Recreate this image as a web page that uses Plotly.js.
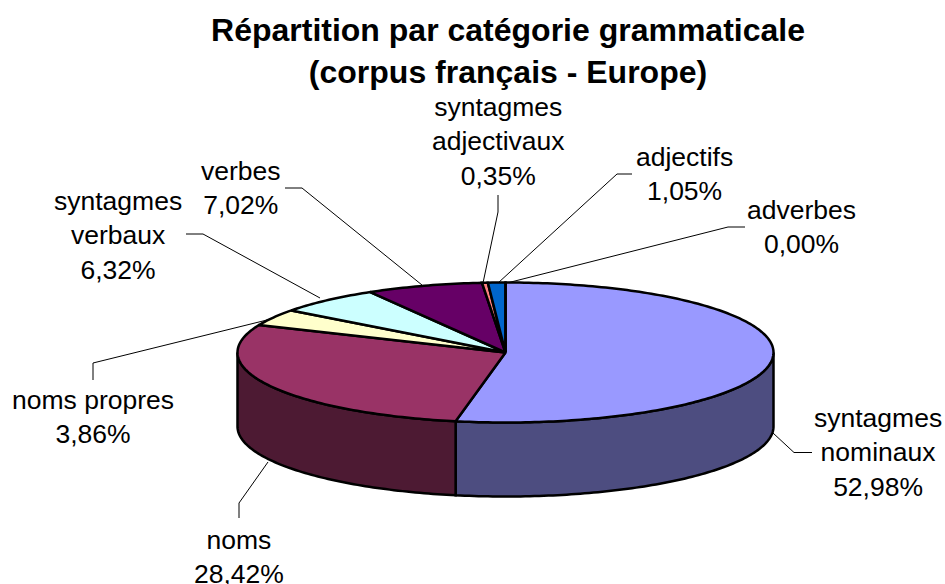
<!DOCTYPE html>
<html>
<head>
<meta charset="utf-8">
<script src="https://cdn.plot.ly/plotly-3.0.1.min.js"></script>
<style>html,body{margin:0;padding:0;background:#fff}#chart{width:945px;height:584px}</style>
</head>
<body>
<div id="chart"></div>
<script>
// Data
const categories = ["syntagmes nominaux","noms","noms propres","syntagmes verbaux","verbes","syntagmes adjectivaux","adjectifs","adverbes"];
const labelLines = ["syntagmes<br>nominaux","noms","noms propres","syntagmes<br>verbaux","verbes","syntagmes<br>adjectivaux","adjectifs","adverbes"];
const values = [52.98,28.42,3.86,6.32,7.02,0.35,1.05,0.00];
const titleText = "<b>Répartition par catégorie grammaticale<br>(corpus français - Europe)</b>";

// Styles
const topColors = ["#9999FF","#993366","#FFFFCC","#CCFFFF","#660066","#FF8080","#0066CC","#CCCCFF"];
const sideColors = ["#4D4D80","#4D1A33","#808066","#668080","#330033","#804040","#003366","#666680"];

// Layout of the pie and labels (axis units equal pixels)
const pie = {cx:505.5, cy:352.5, rx:268, ry:70, depth:74};
const labelPos = [[878,452],[239,557],[93,417],[118,235],[241,188],[498,141],[684,174],[801,227]];
const leaders = [
  [[773,433],[794,452.5],[812,452.5]],
  [[268,462],[239,503],[239,518]],
  [[267,320],[93,363],[93,380]],
  [[320,298],[203,234],[186,234]],
  [[422,285],[302,188],[285,188]],
  [[483,283],[498,212],[498,195]],
  [[498,283],[617,174],[632,174]],
  [[507,283],[728,227],[745,227]]
];

const total = values.reduce((a,b)=>a+b,0);
function pt(deg, dy){
  const r = deg*Math.PI/180;
  return [pie.cx + pie.rx*Math.sin(r), pie.cy - pie.ry*Math.cos(r) + (dy||0)];
}
function arc(a0,a1,dy){
  const out=[]; const n=Math.max(1,Math.ceil(Math.abs(a1-a0)));
  for(let i=0;i<=n;i++) out.push(pt(a0+(a1-a0)*i/n,dy));
  return out;
}
const spans=[]; let acc=0;
values.forEach(v=>{const a0=acc/total*360; acc+=v; spans.push([a0,acc/total*360]);});

const traces=[];
function poly(points,color,name,w){
  traces.push({type:"scatter",mode:"lines",x:points.map(p=>p[0]),y:points.map(p=>p[1]),
    fill:"toself",fillcolor:color,line:{color:"#000",width:w,simplify:false},
    name:name,hoverinfo:"name",showlegend:false});
}
// leader lines beneath the pie
leaders.forEach((l,i)=>traces.push({type:"scatter",mode:"lines",x:l.map(p=>p[0]),y:l.map(p=>p[1]),
  line:{color:"#000",width:1},hoverinfo:"skip",showlegend:false}));
// visible outer wall
spans.forEach(([a0,a1],i)=>{
  const s=Math.max(a0,90), e=Math.min(a1,270);
  if(e>s){
    const top=arc(s,e,0), bot=arc(e,s,pie.depth);
    const pts=top.concat(bot); pts.push(top[0]);
    poly(pts,sideColors[i],categories[i],2.5);
  }
});
// top faces
spans.forEach(([a0,a1],i)=>{
  const pts=[[pie.cx,pie.cy]].concat(arc(a0,a1,0)); pts.push([pie.cx,pie.cy]);
  poly(pts,topColors[i],categories[i],2.5);
});

const annotations = categories.map((c,i)=>({
  xref:"x",yref:"y",x:labelPos[i][0],y:labelPos[i][1],xanchor:"center",yanchor:"middle",
  showarrow:false,align:"center",
  text:labelLines[i]+"<br>"+values[i].toFixed(2).replace(".",",")+"%",
  font:{family:"Liberation Sans, Arial, sans-serif",size:26.5,color:"#000"}
}));

Plotly.newPlot("chart",traces,{
  width:945,height:584,margin:{l:0,r:0,t:0,b:0},
  paper_bgcolor:"#fff",plot_bgcolor:"#fff",showlegend:false,
  title:{text:titleText,x:508/945,xanchor:"center",y:1-41/584,yanchor:"middle",
    font:{family:"Liberation Sans, Arial, sans-serif",size:32,color:"#000"}},
  xaxis:{range:[0,945],visible:false,fixedrange:true},
  yaxis:{range:[584,0],visible:false,fixedrange:true},
  annotations:annotations
},{displayModeBar:false});
</script>
</body>
</html>
